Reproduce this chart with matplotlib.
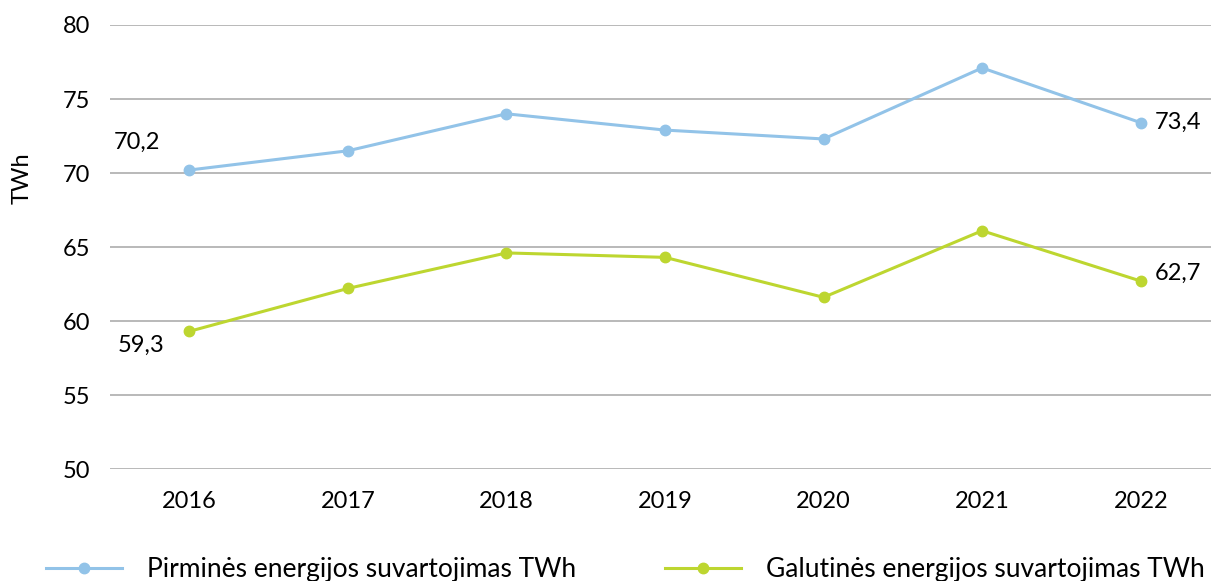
import matplotlib.pyplot as plt

# Duomenys
metai = ["2016", "2017", "2018", "2019", "2020", "2021", "2022"]
pirmine = [70.2, 71.5, 74.0, 72.9, 72.3, 77.1, 73.4]
galutine = [59.3, 62.2, 64.6, 64.3, 61.6, 66.1, 62.7]
y_ticks = [50, 55, 60, 65, 70, 75, 80]

plt.rcParams['font.family'] = ['Lato', 'DejaVu Sans']

W, H = 1211, 581
fig = plt.figure(figsize=(W / 100, H / 100), dpi=100)
ax = fig.add_axes([110 / W, 112 / H, 1110 / W, 444 / H])

x = list(range(len(metai)))
blue = '#92c3e8'
green = '#bdd630'

ax.plot(x, pirmine, '-o', color=blue, lw=2.2, ms=7.5, label='Pirminės energijos suvartojimas TWh')
ax.plot(x, galutine, '-o', color=green, lw=2.2, ms=7.5, label='Galutinės energijos suvartojimas TWh')

ax.set_xlim(-0.5, len(metai) - 0.5)
ax.set_ylim(50, 80)
ax.set_yticks(y_ticks)
ax.set_xticks(x)
ax.set_xticklabels(metai)
ax.tick_params(axis='both', length=0, labelsize=17, pad=14)
ax.tick_params(axis='x', pad=16)
ax.grid(axis='y', color='#b3b3b3', lw=1.3)
ax.set_axisbelow(True)
for s in ax.spines.values():
    s.set_visible(False)

ax.set_ylabel('TWh', fontsize=17, va='center')
ax.yaxis.set_label_coords(-88 / 1110, (581 - 178 - 112) / 444)

# reiksmiu etiketes
fs = 17
ax.annotate('70,2', (0, pirmine[0]), xytext=(-52, 28), textcoords='offset pixels',
            fontsize=fs, ha='center', va='center')
ax.annotate('59,3', (0, galutine[0]), xytext=(-48, -14), textcoords='offset pixels',
            fontsize=fs, ha='center', va='center')
ax.annotate('73,4', (6, pirmine[-1]), xytext=(14, 0), textcoords='offset pixels',
            fontsize=fs, ha='left', va='center')
ax.annotate('62,7', (6, galutine[-1]), xytext=(14, 8), textcoords='offset pixels',
            fontsize=fs, ha='left', va='center')

# legenda
h, l = ax.get_legend_handles_labels()
fig.legend(h, l, loc='center', bbox_to_anchor=(0.5165, 11 / H), ncol=2, frameon=False,
           fontsize=19, handlelength=2.9, handletextpad=0.95, columnspacing=3.35)

fig.savefig('out.png', dpi=100)
